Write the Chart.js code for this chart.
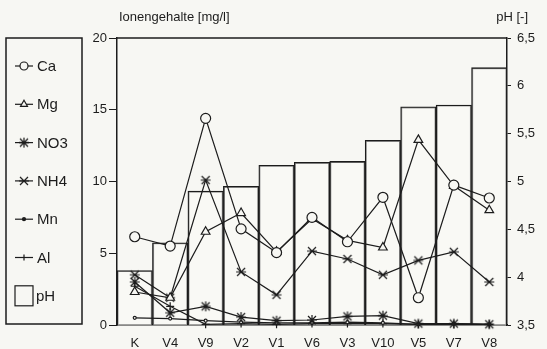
<!DOCTYPE html>
<html>
<head>
<meta charset="utf-8">
<script src="https://cdn.jsdelivr.net/npm/chart.js@4/dist/chart.umd.min.js"></script>
<style>
  html, body { margin: 0; padding: 0; background: #f7f7f3; }
  canvas { display: block; }
</style>
</head>
<body>
<canvas id="chart" width="547" height="349"></canvas>
<script>
// Messstellen und Werte
const categories = ['K', 'V4', 'V9', 'V2', 'V1', 'V6', 'V3', 'V10', 'V5', 'V7', 'V8'];
const ca  = [6.15, 5.5, 14.4, 6.7, 5.05, 7.5, 5.8, 8.9, 1.9, 9.75, 8.85];
const mg  = [2.3, 1.9, 6.5, 7.8, 5.1, 7.4, 5.9, 5.4, 12.9, 9.7, 8.0];
const no3 = [3.0, 0.85, 1.3, 0.55, 0.3, 0.35, 0.6, 0.65, 0.1, 0.1, 0.05];
const nh4 = [3.5, 1.9, 10.1, 3.7, 2.1, 5.15, 4.6, 3.5, 4.5, 5.1, 3.0];
const mn  = [0.5, 0.45, 0.3, 0.2, 0.15, 0.15, 0.2, 0.15, 0.05, 0.1, 0.05];
const al  = [2.7, 1.3, 0.05, 0.1, 0.05, 0.1, 0.1, 0.1, 0.05, 0.05, 0.05];
const ph  = [4.07, 4.36, 4.9, 4.95, 5.17, 5.2, 5.21, 5.43, 5.78, 5.8, 6.19];

const ionTicks = [0, 5, 10, 15, 20];
const phTicks = [3.5, 4, 4.5, 5, 5.5, 6, 6.5];

const ink = '#1c1c1c';
const font = 'Liberation Sans, Arial, sans-serif';

// Sternsymbole fuer NO3 / NH4
function starImg(vertical) {
    const c = document.createElement('canvas');
    c.width = 12; c.height = 12;
    const g = c.getContext('2d');
    g.strokeStyle = ink;
    g.lineWidth = 1.2;
    g.beginPath();
    g.moveTo(2, 2); g.lineTo(10, 10);
    g.moveTo(10, 2); g.lineTo(2, 10);
    g.moveTo(1, 6); g.lineTo(11, 6);
    if (vertical) { g.moveTo(6, 1); g.lineTo(6, 11); }
    g.stroke();
    return c;
}

function lineSet(label, data, style, radius) {
    return {
        type: 'line',
        label: label,
        data: data,
        yAxisID: 'y',
        borderColor: ink,
        borderWidth: 1.2,
        pointStyle: style,
        pointRadius: radius,
        pointBorderColor: ink,
        pointBackgroundColor: '#f7f7f3',
        pointBorderWidth: 1.2,
        tension: 0,
        clip: false,
        order: 1
    };
}

// Legende links und Achsentitel
const extras = {
    id: 'extras',
    afterDraw(chart) {
        const ctx = chart.ctx;
        const area = chart.chartArea;
        ctx.save();
        ctx.strokeStyle = ink;
        ctx.lineWidth = 1.5;
        ctx.beginPath();
        ctx.moveTo(area.left, area.top);
        ctx.lineTo(area.right, area.top);
        ctx.stroke();

        ctx.fillStyle = ink;
        ctx.font = '13px ' + font;
        ctx.textBaseline = 'middle';
        ctx.textAlign = 'left';
        ctx.fillText('Ionengehalte [mg/l]', 119, 17);
        ctx.textAlign = 'right';
        ctx.fillText('pH [-]', 528, 17);

        // Legendenrahmen
        ctx.lineWidth = 1.5;
        ctx.strokeRect(6, 38, 76, 286);
        ctx.font = '15px ' + font;
        ctx.textAlign = 'left';
        const step = 38.3;
        chart.data.datasets.forEach((ds, i) => {
            const y = 66 + i * step;
            ctx.strokeStyle = ink;
            ctx.fillStyle = ink;
            if (ds.type === 'line') {
                ctx.lineWidth = 1.2;
                ctx.beginPath();
                ctx.moveTo(15, y);
                ctx.lineTo(33, y);
                ctx.stroke();
                ctx.fillStyle = '#f7f7f3';
                Chart.helpers.drawPoint(ctx, {
                    pointStyle: ds.pointStyle,
                    radius: Math.max(ds.pointRadius - 1, 1.5),
                    borderWidth: 1.2,
                    rotation: 0
                }, 24, y);
                if (ds.label === 'Mn') {
                    ctx.fillStyle = ink;
                    ctx.beginPath();
                    ctx.arc(24, y, 1.5, 0, Math.PI * 2);
                    ctx.fill();
                }
            } else {
                ctx.lineWidth = 1.2;
                ctx.strokeRect(15, y - 10, 18, 20);
            }
            ctx.fillStyle = ink;
            ctx.fillText(ds.label, ds.type === 'line' ? 37 : 36, y + 1);
        });
        ctx.restore();
    }
};

new Chart(document.getElementById('chart'), {
    data: {
        labels: categories,
        datasets: [
            lineSet('Ca', ca, 'circle', 5),
            lineSet('Mg', mg, 'triangle', 5),
            lineSet('NO3', no3, starImg(true), 5),
            lineSet('NH4', nh4, starImg(false), 5),
            lineSet('Mn', mn, 'circle', 1.5),
            lineSet('Al', al, 'cross', 4),
            {
                type: 'bar',
                label: 'pH',
                data: ph,
                yAxisID: 'ph',
                backgroundColor: 'rgba(250,250,246,0.6)',
                borderColor: ink,
                borderWidth: 1.3,
                barPercentage: 1,
                categoryPercentage: 1,
                order: 5
            }
        ]
    },
    options: {
        responsive: false,
        animation: false,
        devicePixelRatio: 1,
        layout: { padding: { top: 38, left: 0, right: 0, bottom: 0 } },
        plugins: { legend: { display: false }, tooltip: { enabled: false } },
        scales: {
            x: {
                offset: true,
                grid: { display: false },
                border: { display: true, color: ink, width: 1.5 },
                ticks: { color: ink, font: { family: font, size: 13 }, padding: 3, maxRotation: 0 },
                afterFit(s) { s.height = 24; }
            },
            y: {
                position: 'left',
                min: 0,
                max: 20,
                afterBuildTicks(s) { s.ticks = ionTicks.map(v => ({ value: v })); },
                grid: { drawOnChartArea: false, tickLength: 8, color: ink, lineWidth: 1 },
                border: { display: true, color: ink, width: 1.5 },
                ticks: { color: ink, font: { family: font, size: 13 }, padding: 2 },
                afterFit(s) { s.width = 117; }
            },
            ph: {
                position: 'right',
                min: 3.5,
                max: 6.5,
                afterBuildTicks(s) { s.ticks = phTicks.map(v => ({ value: v })); },
                grid: { drawOnChartArea: false, tickLength: 4, color: ink, lineWidth: 1 },
                border: { display: true, color: ink, width: 1.5 },
                ticks: {
                    color: ink,
                    font: { family: font, size: 13 },
                    padding: 6,
                    callback: v => String(v).replace('.', ',')
                },
                afterFit(s) { s.width = 40; }
            }
        }
    },
    plugins: [extras]
});
</script>
</body>
</html>
